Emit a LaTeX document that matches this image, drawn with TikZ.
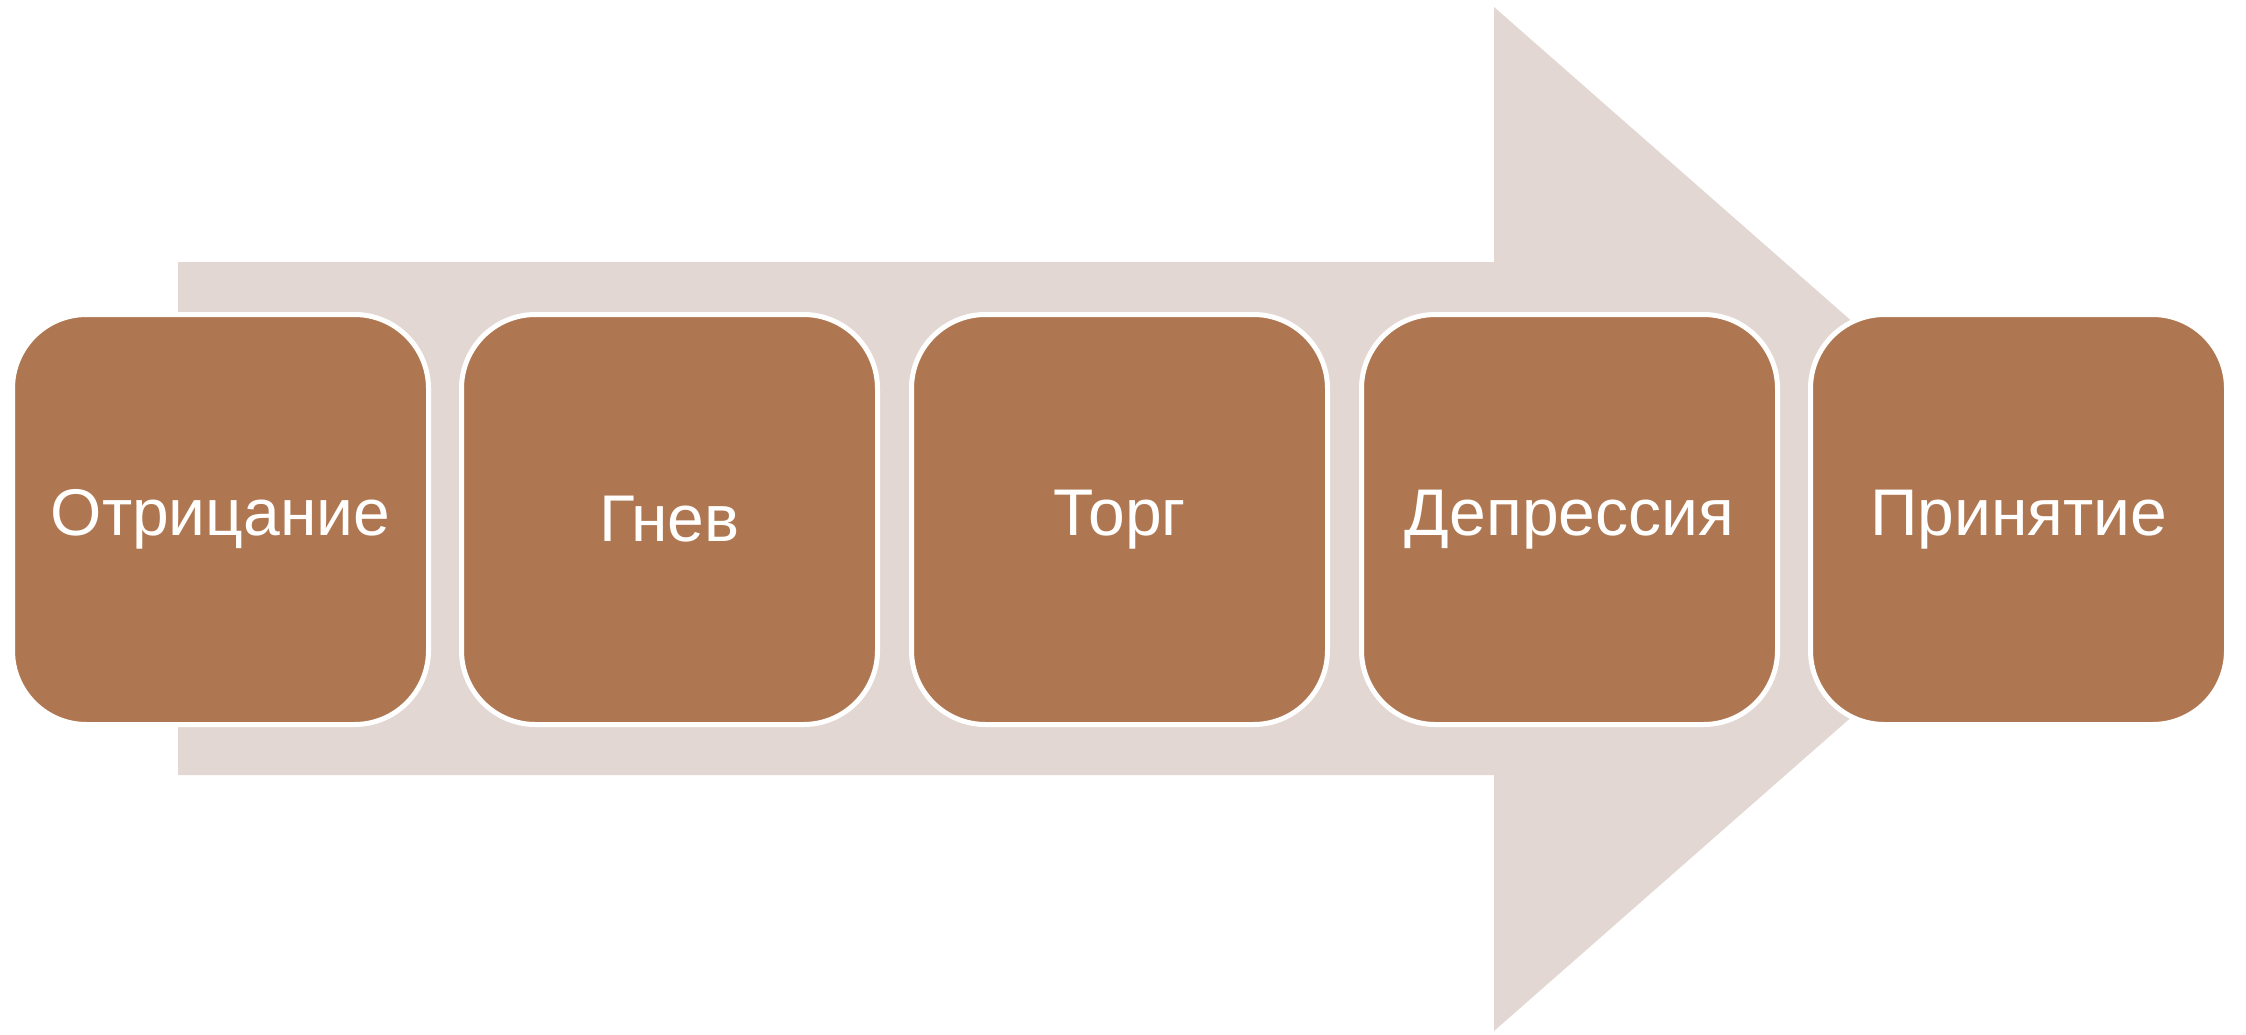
\documentclass[tikz,border=0pt]{standalone}
\usepackage{fontspec}
\setmainfont{Liberation Sans}
\definecolor{stagefill}{RGB}{175,119,81}
\definecolor{arrowfill}{RGB}{226,215,210}
\begin{document}
\begin{tikzpicture}[x=1pt,y=-1pt,
  stagebox/.style={rectangle, rounded corners=74pt, fill=stagefill, draw=white,
    line width=5pt, minimum width=416pt, minimum height=410pt, inner sep=0pt,
    text=white, font=\fontsize{66}{74}\selectfont}]
\useasboundingbox (0,0) rectangle (2246,1034);
% background arrow
\coordinate (tail top) at (178,262);
\coordinate (tail bot) at (178,775);
\coordinate (neck top) at (1494,262);
\coordinate (neck bot) at (1494,775);
\coordinate (barb top) at (1494,7);
\coordinate (barb bot) at (1494,1031);
\coordinate (tip) at (2077,519);
\fill[arrowfill] (tail top) -- (neck top) -- (barb top) -- (tip) -- (barb bot) -- (neck bot) -- (tail bot) -- cycle;
% stages
\node[stagebox] (s1) at (220.5,519.5) {Отрицание};
\node[stagebox] (s2) at (669.5,519.5) {Гнев};
\node[stagebox] (s3) at (1119.5,519.5) {Торг};
\node[stagebox] (s4) at (1569.5,519.5) {Депрессия};
\node[stagebox] (s5) at (2018.5,519.5) {Принятие};
\end{tikzpicture}
\end{document}
